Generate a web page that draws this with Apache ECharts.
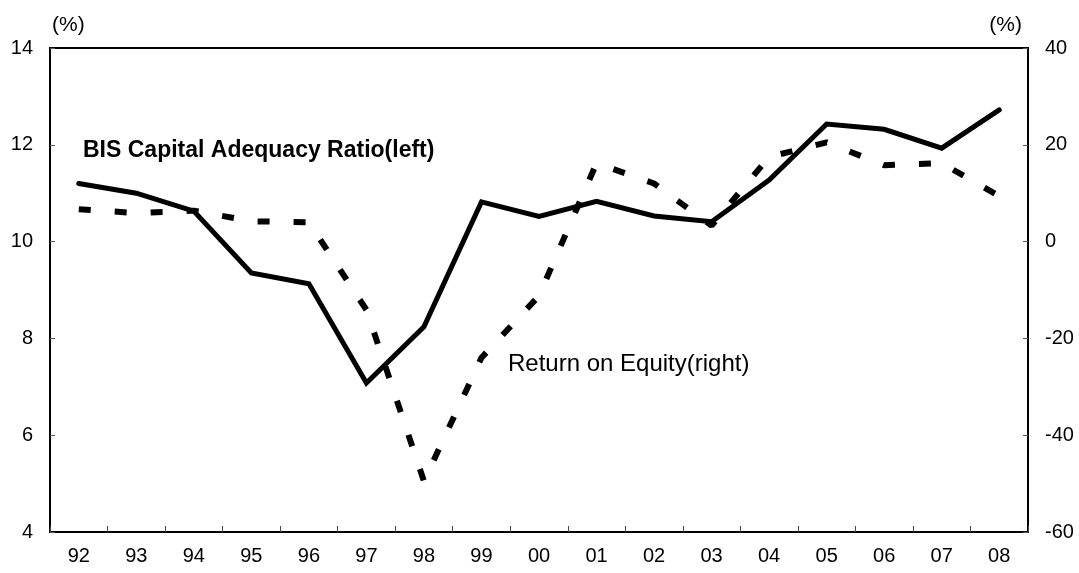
<!DOCTYPE html>
<html>
<head>
<meta charset="utf-8">
<script src="https://cdn.jsdelivr.net/npm/echarts@6/dist/echarts.min.js"></script>
<style>
  html, body { margin: 0; padding: 0; background: #fff; }
  #chart { width: 1079px; height: 573px; }
</style>
</head>
<body>
<div id="chart"></div>
<script>
// fiscal years, two-digit
const years = ['92', '93', '94', '95', '96', '97', '98', '99', '00', '01', '02', '03', '04', '05', '06', '07', '08']
// BIS capital adequacy ratio, left axis (%)
const bisRatio = [11.2, 11.0, 10.63, 9.35, 9.13, 7.08, 8.24, 10.82, 10.52, 10.83, 10.53, 10.41, 11.27, 12.43, 12.32, 11.93, 12.72]
// return on equity, right axis (%)
const roe = [6.7, 5.9, 6.4, 4.2, 4.0, -14.1, -49.5, -24, -11.2, 16.2, 12.0, 3.3, 17.5, 20.5, 15.8, 16.2, 9.4]
const leftTicks = { min: 4, max: 14, interval: 2 }
const rightTicks = { min: -60, max: 40, interval: 20 }

const font = 'Liberation Sans, Arial, sans-serif'
const chart = echarts.init(document.getElementById('chart'))

const yAxisBase = {
  type: 'value',
  name: '(%)',
  nameLocation: 'end',
  nameGap: 12,
  axisLine: { show: true, lineStyle: { color: '#000', width: 2 } },
  axisTick: { show: true, inside: true, length: 5, lineStyle: { color: '#555', width: 1 } },
  splitLine: { show: false },
  axisLabel: { color: '#000', fontSize: 20, fontFamily: font, margin: 17 }
}

chart.setOption({
  animation: false,
  backgroundColor: '#fff',
  grid: {
    left: 50,
    right: 51,
    top: 48,
    bottom: 41,
    show: true,
    borderColor: '#000',
    borderWidth: 2
  },
  xAxis: {
    type: 'category',
    data: years,
    boundaryGap: true,
    axisLine: { onZero: false, lineStyle: { color: '#000', width: 2 } },
    axisTick: { show: true, inside: true, length: 6, alignWithLabel: false, lineStyle: { color: '#444', width: 1 } },
    axisLabel: { color: '#000', fontSize: 20, fontFamily: font, margin: 14, interval: 0 }
  },
  yAxis: [
    Object.assign({}, yAxisBase, {
      position: 'left',
      min: leftTicks.min,
      max: leftTicks.max,
      interval: leftTicks.interval,
      nameTextStyle: { color: '#000', fontSize: 21, fontFamily: font, align: 'left', padding: [0, 0, 0, 2] }
    }),
    Object.assign({}, yAxisBase, {
      position: 'right',
      min: rightTicks.min,
      max: rightTicks.max,
      interval: rightTicks.interval,
      nameTextStyle: { color: '#000', fontSize: 21, fontFamily: font, align: 'right', padding: [0, 6, 0, 0] }
    })
  ],
  graphic: [
    {
      type: 'text',
      left: 83,
      top: 139,
      style: { text: 'BIS Capital Adequacy Ratio(left)', fill: '#000', font: 'bold 23px ' + font }
    },
    {
      type: 'text',
      left: 508,
      top: 352,
      style: { text: 'Return on Equity(right)', fill: '#000', font: '24px ' + font }
    }
  ],
  series: [
    {
      name: 'Return on Equity(right)',
      type: 'line',
      yAxisIndex: 1,
      data: roe,
      symbol: 'none',
      lineStyle: { color: '#000', width: 6, type: [12, 24], cap: 'butt' }
    },
    {
      name: 'BIS Capital Adequacy Ratio(left)',
      type: 'line',
      yAxisIndex: 0,
      data: bisRatio,
      symbol: 'none',
      lineStyle: { color: '#000', width: 5, cap: 'round', join: 'miter' }
    }
  ]
})
</script>
</body>
</html>
